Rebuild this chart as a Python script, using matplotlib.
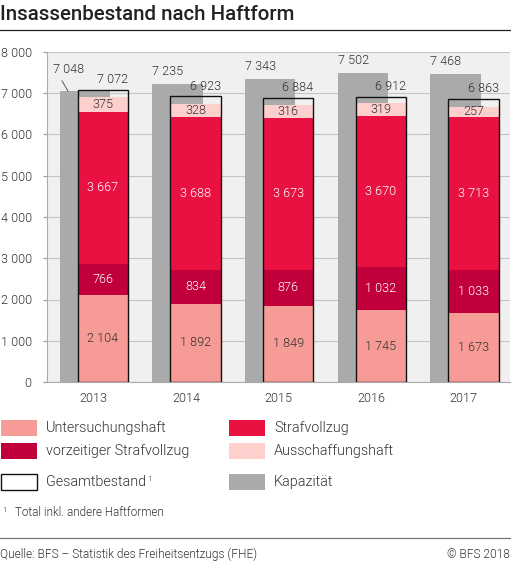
import matplotlib
matplotlib.use("Agg")
import matplotlib.pyplot as plt
import numpy as np

plt.rcParams['font.family'] = ['Roboto', 'DejaVu Sans']
plt.rcParams['font.weight'] = 300

years = ["2013", "2014", "2015", "2016", "2017"]
untersuchung = [2104, 1892, 1849, 1745, 1673]
vorzeitig = [766, 834, 876, 1032, 1033]
strafvollzug = [3667, 3688, 3673, 3670, 3713]
ausschaffung = [375, 328, 316, 319, 257]
gesamt = [7072, 6923, 6884, 6912, 6863]
kapazitaet = [7048, 7235, 7343, 7502, 7468]
yticks = [0, 1000, 2000, 3000, 4000, 5000, 6000, 7000, 8000]

def fmt(v):
    return f"{v:,}".replace(",", " ")

C_U = "#f69b95"
C_V = "#c1003b"
C_S = "#e81142"
C_A = "#fdd0cd"
C_K = "#aaaaaa"
BG = "#f0f0f0"
TXT = "#333333"
FS = 9.1

W, H = 511, 562
fig = plt.figure(figsize=(W / 100, H / 100), dpi=100)
ax = fig.add_axes([47 / W, (H - 382) / H, 463 / W, 330 / H])
ax.set_facecolor(BG)
ax.set_xlim(-0.5, 4.5)
ax.set_ylim(0, 8000)

x = np.arange(len(years))
bw = 0.545
xk = x - 0.09
xt = x + 0.105

ax.bar(xk, kapazitaet, width=bw, color=C_K, zorder=2)
bottom = np.zeros(len(years))
segs = [(untersuchung, C_U, TXT), (vorzeitig, C_V, "white"),
        (strafvollzug, C_S, "white"), (ausschaffung, C_A, TXT)]
for vals, col, tc in segs:
    ax.bar(xt, vals, width=bw, bottom=bottom, color=col, zorder=3)
    for i, v in enumerate(vals):
        ax.text(xt[i], bottom[i] + v / 2, fmt(v), ha="center", va="center",
                color=tc, fontsize=FS, zorder=5)
    bottom += np.array(vals)
ax.bar(xt, gesamt, width=bw, facecolor="none", edgecolor="#111111",
       linewidth=1.0, zorder=4)

for i, v in enumerate(gesamt):
    ax.annotate(fmt(v), xy=(xt[i] + bw / 2, v), xytext=(0, 7.5),
                textcoords="offset points", ha="right", va="center",
                color=TXT, fontsize=FS, zorder=6)
for i, v in enumerate(kapazitaet):
    if i == 0:
        ax.annotate(fmt(v), xy=(xk[i] - bw / 2 + 0.09, v), xytext=(-11, 16),
                    textcoords="offset points", ha="left", va="center",
                    color=TXT, fontsize=FS, zorder=6,
                    arrowprops=dict(arrowstyle="-", color="#555555", lw=0.7,
                                    relpos=(0.2, 0.0), shrinkA=2, shrinkB=0))
    else:
        ax.annotate(fmt(v), xy=(xk[i] - bw / 2, v), xytext=(0, 9),
                    textcoords="offset points", ha="left", va="center",
                    color=TXT, fontsize=FS, zorder=6)

ax.set_yticks(yticks)
ax.set_yticklabels([fmt(v) for v in yticks], fontsize=FS, color=TXT)
ax.set_xticks(x)
ax.set_xticklabels(years, fontsize=FS, color=TXT)
ax.tick_params(axis="x", length=0, pad=7)
ax.tick_params(axis="y", length=3, color="#999999", pad=8)
ax.grid(axis="y", color="#c4c4c4", linewidth=0.8, zorder=1)
ax.set_axisbelow(True)
for s in ["top", "right"]:
    ax.spines[s].set_visible(False)
for s in ["left", "bottom"]:
    ax.spines[s].set_color("#aaaaaa")
    ax.spines[s].set_linewidth(0.8)

# Title
fig.text(0 / W, 1 - 15 / H, "Insassenbestand nach Haftform", fontsize=14.8,
         fontweight=500, color="#222222", va="center", ha="left")
fig.add_artist(plt.Line2D([0, 1], [1 - 29.5 / H, 1 - 29.5 / H],
                          color="#222222", linewidth=0.9))

# Legend
items = [
    (0, 428, C_U, None, "Untersuchungshaft", False),
    (228, 428, C_S, None, "Strafvollzug", False),
    (0, 451, C_V, None, "vorzeitiger Strafvollzug", False),
    (228, 451, C_A, None, "Ausschaffungshaft", False),
    (0, 482, "white", "#111111", "Gesamtbestand", True),
    (228, 482, C_K, None, "Kapazität", False),
]
for px, py, fc, ec, lab, sup in items:
    r = plt.Rectangle((px / W + 0.5 / W, 1 - (py + 8) / H), 36 / W, 16 / H,
                      transform=fig.transFigure, facecolor=fc,
                      edgecolor=ec if ec else "none", linewidth=1.0)
    fig.add_artist(r)
    t = fig.text((px + 46) / W, 1 - py / H, lab, fontsize=10.4, color=TXT,
                 va="center", ha="left")
    if sup:
        fig.canvas.draw()
        bb = t.get_window_extent()
        fig.text((bb.x1 + 1) / W, 1 - (py - 3) / H, "1", fontsize=5.8,
                 color=TXT, va="center", ha="left")

fig.text(2 / W, 1 - 510 / H, "1", fontsize=5.8, color=TXT, va="center")
fig.text(15 / W, 1 - 513 / H, "Total inkl. andere Haftformen", fontsize=8.4,
         color=TXT, va="center")

fig.add_artist(plt.Line2D([0, 1], [1 - 537.5 / H, 1 - 537.5 / H],
                          color="#777777", linewidth=0.9))
fig.text(0, 1 - 554 / H, "Quelle: BFS – Statistik des Freiheitsentzugs (FHE)",
         fontsize=8.6, color=TXT, va="center", ha="left")
fig.text(1 - 1 / W, 1 - 554 / H, "© BFS 2018", fontsize=8.6, color=TXT,
         va="center", ha="right")

fig.savefig("out.png", dpi=100, facecolor="white")
